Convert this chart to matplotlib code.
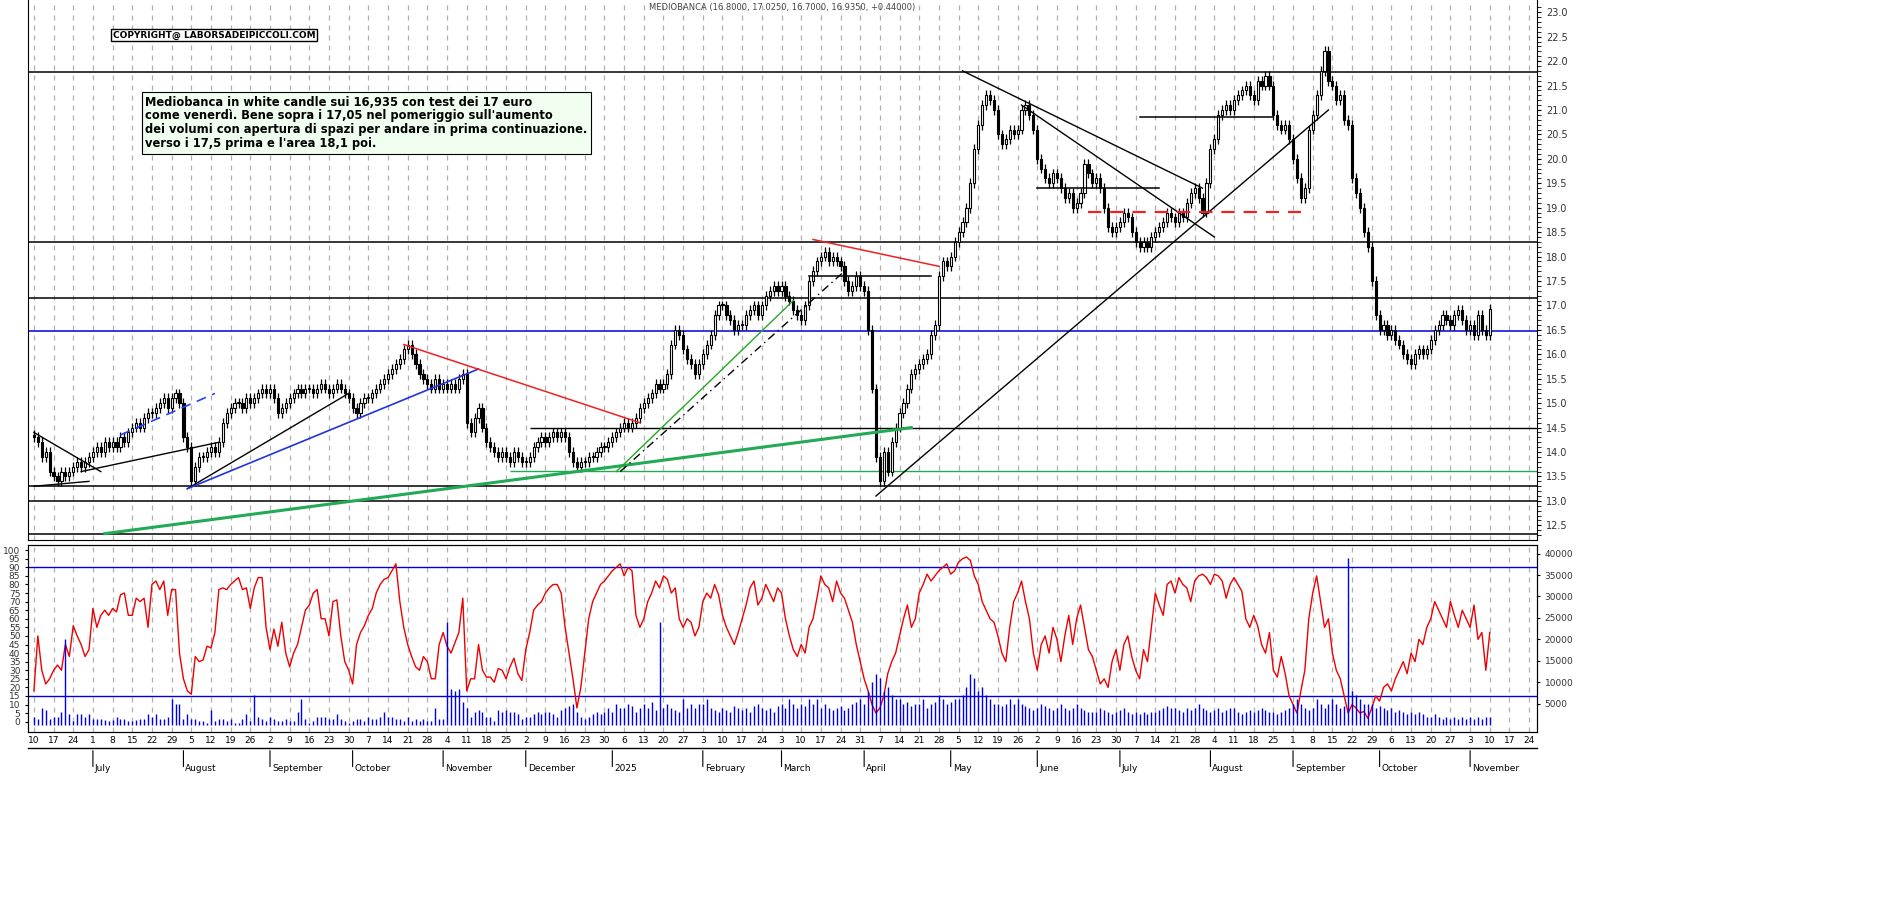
import numpy as np
import pandas as pd
import matplotlib
matplotlib.use("Agg")
import matplotlib.pyplot as plt
from matplotlib.patches import Rectangle

# ---------------- data ----------------
start_date = "2024-06-10"
closes = [
14.3,14.2,13.9,14.0,13.6, 13.5,13.4,13.6,13.5,13.6, 13.7,13.8,13.7,13.8,13.9, 14.0,14.1,14.0,14.2,14.1,
14.2,14.1,14.3,14.2,14.4, 14.5,14.6,14.5,14.7,14.8, 14.8,14.9,15.0,15.1,14.9, 15.1,15.2,15.0,14.3,14.1,
13.4,13.7,13.9,13.9,14.0, 14.1,14.0,14.2,14.6,14.8, 14.9,15.0,15.0,14.9,15.1, 15.0,15.1,15.2,15.3,15.2,
15.3,15.1,14.8,14.9,15.0, 15.1,15.2,15.3,15.2,15.3, 15.3,15.2,15.3,15.4,15.3, 15.2,15.3,15.4,15.3,15.2,
15.1,14.9,14.8,15.0,15.1, 15.1,15.2,15.3,15.4,15.5, 15.6,15.7,15.8,15.9,16.1, 16.2,16.0,15.8,15.6,15.5,
15.4,15.3,15.5,15.3,15.4, 15.3,15.4,15.3,15.5,15.6, 14.6,14.4,14.7,14.9,14.5, 14.2,14.1,14.0,13.9,14.0,
13.9,13.8,14.0,13.9,13.8, 13.8,13.9,14.1,14.2,14.3, 14.2,14.3,14.4,14.3,14.4, 14.3,14.0,13.8,13.7,13.8,
13.8,13.9,13.9,14.0,14.1, 14.1,14.2,14.3,14.4,14.5, 14.6,14.5,14.6,14.7,14.9, 15.0,15.1,15.2,15.4,15.3,
15.4,15.6,16.2,16.5,16.4, 16.1,15.9,15.8,15.6,15.8, 16.0,16.2,16.4,16.8,17.0, 17.0,16.8,16.7,16.5,16.6,
16.6,16.8,16.9,17.0,16.8, 17.0,17.2,17.3,17.4,17.3, 17.4,17.2,17.1,16.9,16.8, 16.7,17.0,17.5,17.7,17.9,
18.0,18.1,17.9,18.0,17.9, 17.8,17.5,17.3,17.4,17.6, 17.4,17.3,16.5,15.3,13.9, 13.4,14.0,13.6,14.2,14.5,
14.8,15.0,15.3,15.6,15.7, 15.8,15.9,16.0,16.4,16.6, 17.6,17.9,17.8,18.0,18.3, 18.5,18.7,19.0,19.5,20.2,
20.7,21.1,21.3,21.2,21.0, 20.5,20.3,20.4,20.6,20.5, 20.6,21.0,21.1,20.9,20.6, 20.0,19.8,19.6,19.5,19.7,
19.6,19.4,19.2,19.3,19.0, 19.1,19.3,19.9,19.7,19.5, 19.6,19.4,19.0,18.6,18.5, 18.6,18.7,18.9,18.8,18.5,
18.3,18.2,18.3,18.2,18.4, 18.5,18.6,18.7,18.9,18.8, 18.7,18.9,18.8,19.1,19.3, 19.4,19.2,18.9,19.5,20.2,
20.4,20.9,21.0,21.1,21.0, 21.2,21.3,21.4,21.5,21.3, 21.2,21.6,21.5,21.7,21.5, 20.9,20.7,20.6,20.7,20.4,
20.0,19.6,19.2,19.4,20.6, 20.9,21.3,21.8,22.2,21.6, 21.5,21.2,21.3,20.8,20.7, 19.6,19.3,19.0,18.5,18.2,
17.5,16.8,16.5,16.6,16.4, 16.5,16.3,16.2,16.0,15.9, 15.8,16.0,16.1,16.0,16.1, 16.3,16.5,16.6,16.8,16.7,
16.6,16.8,16.9,16.7,16.5, 16.6,16.4,16.8,16.5,16.4, 16.935]

oscillator = [
18,50,30,22,25, 30,33,30,45,38, 56,50,45,38,42, 66,55,62,65,62, 66,64,74,75,62, 62,72,70,72,55,
80,82,77,82,62, 77,77,40,25,18, 16,38,35,36,44, 43,52,77,78,77, 80,82,84,77,78, 66,78,84,84,55,
42,54,44,58,40, 32,40,45,55,65, 68,75,77,60,60, 50,70,71,50,35, 30,22,45,52,56, 62,66,75,80,83,
84,88,92,70,55, 45,38,32,30,38, 35,25,25,45,52, 44,40,46,52,72, 18,25,25,45,30, 26,26,23,31,30,
25,32,37,28,24, 42,52,65,68,70, 75,78,80,80,75, 55,40,25,8,20, 40,60,70,75,80, 82,85,88,90,92,
85,90,88,62,55, 60,70,75,82,78, 85,83,75,78,60, 55,60,58,50,55, 70,75,72,80,74, 62,55,50,45,52,
60,68,78,82,68, 72,80,75,70,78, 75,60,50,42,38, 45,40,55,60,72, 85,80,78,70,82, 75,72,65,58,45,
35,25,18,10,5, 8,15,28,35,40, 50,60,68,55,60, 75,80,86,82,85, 88,90,92,86,88, 93,95,96,94,85,
80,70,65,60,58, 50,40,35,55,70, 75,82,70,60,40, 30,45,50,40,55, 48,35,50,62,45, 60,68,55,42,38,
30,22,25,20,35, 42,30,45,50,38, 30,25,42,35,55, 75,68,62,80,82, 75,84,80,78,70, 82,85,86,84,80,
86,85,82,72,80, 84,80,76,60,55, 62,56,45,40,52, 30,26,38,28,15, 10,5,18,30,60, 75,85,70,55,60,
40,30,25,15,5, 10,8,5,6,2, 8,15,12,20,22, 18,25,30,35,28, 40,35,48,45,55, 60,70,65,60,55,
70,62,55,65,60, 55,68,48,52,30, 52]

volume_k = [
2,1.5,4,3.5,1.5, 2,2,3,20,2.5, 1,2.5,2.5,2,2.5, 1.5,1.5,1.5,1.2,1, 1.2,2,1.5,1.5,1, 1,1.2,1.5,1.5,2.5,
2,2.5,1.5,1.5,1.8, 6,5,5,1.5,2.5, 1.5,1.5,1,1,0.5, 3.5,1,1.5,1.5,1, 1.5,0.5,0.5,1.5,2.5, 1,7,2,1.5,1,
2,1.5,1,1,1.5, 1,1,3,6,1.5, 0.5,1,2,2,2, 1.5,1.5,2.5,1.5,1, 0.5,1,1.5,1.5,1, 2,1.5,1.5,2,3,
2,2,1.5,1.5,1, 2,1,1.5,1,1.5, 1,1,4,1.5,1.5, 24,8.5,8,8.5,5.5, 4,2,3,3.5,3, 2,2,1,3.5,3,
3.5,3,3,2.5,1.5, 2,2,2.5,3,2.5, 3,3,2.5,2,3.5, 4,4.5,5,3,2, 1.5,2,2.5,3,2.5, 3,4,3,5,4,
4,5,4.5,3,4, 5,4,5.5,3.5,24, 4,5,4,3.5,3, 6,4,5,4,5, 5,6,4,3.5,3, 4,3.5,3,4.5,4,
3.5,4,3,4.5,5, 4,3.5,4,3,4.5, 5,4,6,5,4, 5,4.5,6,5,6, 4,5,4,3.5,4, 4.5,3.5,4,5,5.5,
6,5,8,10,12, 11,8,9,7,6, 6,5,5.5,4.5,5, 5,6,4,5,5.5, 7,6,5,5.5,6, 6,7,9,12,11,
8,9,7,6,5, 5,4.5,5,6,5, 6,5,4.5,4,3.5, 4,5,4.5,4,3.5, 4,5,4,3.5,4, 5,4,3.5,3,3,
3,4,3.5,3,2.5, 3,3.5,4,3,2.5, 3,2.5,3,2.5,3, 3,3.5,4,4.5,4, 4,3.5,3,4,3.5, 4,5,4,3.5,3,
3.5,4,3,3.5,4, 4,3,2.5,3,3.5, 3,3.5,4,3.5,3, 3,2.5,3,3.5,4, 5,6,5,4,3.5, 4,6,5,4,5,
6,5,4,4.5,39, 8,7,6,5,5, 5,4,4.5,4,3.5, 4,3,3.5,3,2.5, 3,2.5,3,2.5,2, 2,2.5,2,1.5,2,
1.5,2,1.5,2,1.5, 2,1.5,2,1.5,2, 2]

h_black = [21.77, 18.3, 17.15]
h_blue = 16.47

title = "MEDIOBANCA (16.8000, 17.0250, 16.7000, 16.9350, +0.44000)"
note = ("Mediobanca in white candle sui 16,935 con test dei 17 euro\n"
        "come venerdì. Bene sopra i 17,05 nel pomeriggio sull'aumento\n"
        "dei volumi con apertura di spazi per andare in prima continuazione.\n"
        "verso i 17,5 prima e l'area 18,1 poi.")

# ---------------- derived ----------------
n = len(closes)
dates_all = pd.bdate_range(start_date, periods=n + 12)
x = np.arange(n)
c = np.array(closes)
o = np.r_[c[0] + 0.05, c[:-1]]
hi = np.maximum(o, c) + 0.1
lo = np.minimum(o, c) - 0.1
xmax = n + 11

W, H = 1890, 902
fig = plt.figure(figsize=(W / 100, H / 100), dpi=100)
fig.patch.set_facecolor("white")
L, R = 28 / W, 1537 / W
axp = fig.add_axes([L, 1 - 540 / H, R - L, 540 / H])
axo = fig.add_axes([L, 1 - 732 / H, R - L, 187 / H])

weeks = [i for i, d in enumerate(dates_all) if d.weekday() == 0]
for ax in (axp, axo):
    ax.set_xlim(-1.5, xmax)
    for w in weeks:
        ax.axvline(w, color="#b0b0b0", lw=0.9, ls=(0, (4, 4)), zorder=0)

# ---- price panel ----
axp.set_ylim(12.2, 23.25)
bw = 0.55
for i in x:
    col = "black"
    axp.vlines(i, lo[i], hi[i], color="black", lw=0.9, zorder=3)
    face = "white" if c[i] >= o[i] else "black"
    bh = max(abs(c[i] - o[i]), 0.02)
    axp.add_patch(Rectangle((i - bw / 2, min(o[i], c[i])), bw, bh, facecolor=face,
                            edgecolor="black", lw=0.8, zorder=4))
for y in h_black:
    axp.axhline(y, color="black", lw=1.1, zorder=2)
axp.axhline(h_blue, color="#0000dd", lw=1.1, zorder=2)
axp.axhline(13.3, color="black", lw=1.1)
axp.axhline(13.0, color="black", lw=1.1)
axp.axhline(12.33, color="black", lw=1.1)
axp.hlines(14.5, 126, xmax, color="black", lw=1.0)
axp.hlines(13.62, 121, xmax, color="#22aa55", lw=1.0)

def seg(x0, y0, x1, y1, **kw):
    axp.plot([x0, x1], [y0, y1], zorder=5, **kw)

seg(0, 14.4, 17, 13.6, color="black", lw=1)
seg(0, 13.3, 14, 13.4, color="black", lw=1)
seg(12, 13.6, 47, 14.2, color="black", lw=1)
seg(22, 14.35, 46, 15.2, color="#2244ff", lw=1.2, ls=(0, (6, 4)))
seg(39, 13.25, 80, 15.2, color="black", lw=1)
seg(39, 13.25, 113, 15.7, color="#2233dd", lw=1.2)
seg(94, 16.2, 154, 14.6, color="#ee2222", lw=1.1)
seg(18, 12.33, 223, 14.5, color="#22aa55", lw=2.2)
seg(148, 13.6, 193, 17.1, color="#22aa22", lw=1)
seg(149, 13.6, 206, 17.7, color="black", lw=1, ls=(0, (6, 3, 1, 3)))
seg(198, 18.35, 230, 17.8, color="#ee2222", lw=1.1)
seg(197, 17.6, 228, 17.6, color="black", lw=1.1)
seg(214, 13.1, 329, 21.0, color="black", lw=1)
seg(236, 21.8, 297, 19.4, color="black", lw=1)
seg(251, 21.1, 300, 18.4, color="black", lw=1)
seg(255, 19.4, 286, 19.4, color="black", lw=1.1)
seg(281, 20.85, 315, 20.85, color="black", lw=1.1)
seg(268, 18.92, 322, 18.92, color="#ee2222", lw=1.6, ls=(0, (6, 4)))

axp.yaxis.tick_right()
yt = np.arange(12.5, 23.01, 0.5)
axp.set_yticks(yt)
axp.set_yticklabels([f"{v:.1f}" for v in yt], fontsize=7, color="#333")
axp.set_yticks(np.arange(12.3, 23.2, 0.1), minor=True)
axp.tick_params(axis="y", which="both", direction="out", length=3)
axp.tick_params(axis="x", bottom=False, labelbottom=False)
for s in ("top",):
    axp.spines[s].set_visible(False)

axp.text(0.5, 0.995, title, transform=axp.transAxes, ha="center", va="top", fontsize=6, color="#444")
fig.text(113 / W, 1 - 35 / H, "COPYRIGHT@ LABORSADEIPICCOLI.COM", fontsize=6.5, fontweight="bold",
         va="center", bbox=dict(boxstyle="square,pad=0.2", fc="white", ec="black", lw=1))
fig.text(145 / W, 1 - 123 / H, note, fontsize=8.3, fontweight="bold", va="center", linespacing=1.1,
         bbox=dict(boxstyle="square,pad=0.3", fc="#f0fff0", ec="black", lw=0.8))

# ---- oscillator / volume panel ----
axo.set_ylim(-6, 103)
axo.plot(x, oscillator, color="#ee0000", lw=1, zorder=4)
axo.axhline(90, color="#0000dd", lw=1)
axo.axhline(15, color="#0000dd", lw=1)
axo.set_yticks(np.arange(0, 101, 5))
axo.set_yticklabels([str(v) for v in range(0, 101, 5)], fontsize=6.5, color="#333")
axo.tick_params(axis="y", length=2)
axv = axo.twinx()
axv.set_ylim(-1600, 42000)
axv.vlines(x, 0, np.array(volume_k) * 1000, color="#0000ee", lw=1.0)
vt = np.arange(5000, 40001, 5000)
axv.set_yticks(vt)
axv.set_yticklabels([str(v) for v in vt], fontsize=6.5, color="#333")
axv.tick_params(axis="y", length=2)

# x labels
axo.set_xticks(weeks)
axo.set_xticklabels([str(dates_all[w].day) for w in weeks], fontsize=6.5)
axo.tick_params(axis="x", length=0, pad=3)
months = [i for i in range(1, len(dates_all)) if dates_all[i].month != dates_all[i - 1].month]
for m in months:
    d = dates_all[m]
    lab = "2025" if (d.month == 1) else d.strftime("%B")
    axo.annotate("", xy=(m, -0.085), xytext=(m, -0.2), xycoords=("data", "axes fraction"),
                 arrowprops=dict(arrowstyle="-", lw=0.8, color="black"), annotation_clip=False)
    axo.text(m + 0.5, -0.17, lab, transform=axo.get_xaxis_transform(), fontsize=6.5,
             va="top", ha="left", clip_on=False)
axo.plot([-1.5, xmax], [-0.085, -0.085], transform=axo.get_xaxis_transform(), color="black",
         lw=1, clip_on=False)

fig.savefig("out.png", dpi=100)
